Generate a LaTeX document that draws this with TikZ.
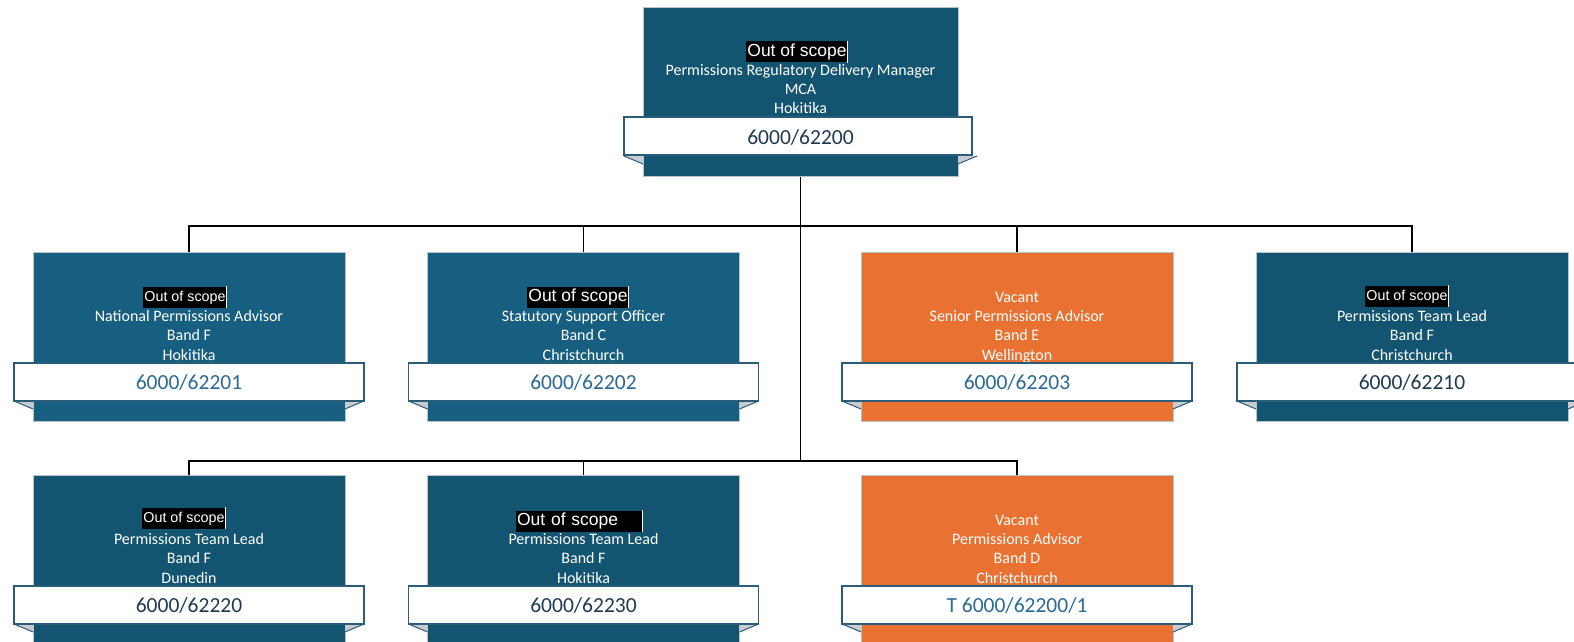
\documentclass[tikz,border=0pt]{standalone}
\usepackage{fontspec}
\setmainfont{Carlito}
\newfontfamily\arialf{Liberation Sans}
\definecolor{dkteal}{HTML}{135470}
\definecolor{mdteal}{HTML}{175F80}
\definecolor{orng}{HTML}{E97132}
\definecolor{bannerline}{HTML}{2B5C78}
\definecolor{codedark}{HTML}{1F3B52}
\definecolor{codeblue}{HTML}{2A6A96}
\definecolor{foldgray}{HTML}{C8CCD0}
\definecolor{boxedge}{HTML}{B8C4CC}
\tikzset{
  unitbox/.style={rectangle, draw=boxedge, line width=0.8pt, minimum width=312pt, minimum height=169pt, inner sep=0pt, anchor=north},
  banner/.style={rectangle, draw=bannerline, fill=white, line width=1.2pt, minimum width=350pt, minimum height=38pt, inner sep=0pt},
  codetext/.style={anchor=base, inner sep=0pt, font=\fontsize{21.5}{25}\selectfont},
  linetext/.style={anchor=base, inner sep=0pt, text=white, font=\fontsize{16}{19}\selectfont},
  oosbig/.style={fill=black, text=white, inner xsep=1pt, inner ysep=0pt, minimum height=21pt, text height=13pt, text depth=4pt, font=\arialf\fontsize{17.5}{20}\selectfont},
  oossmall/.style={fill=black, text=white, inner xsep=1pt, inner ysep=0pt, minimum height=21pt, text height=11pt, text depth=3pt, font=\arialf\fontsize{14.3}{17}\selectfont},
  conn/.style={draw=black, line width=1.3pt},
  foldline/.style={draw=bannerline, line width=1pt}
}
% #1 name, #2 cx, #3 top, #4 fill, #5 box width
\newcommand\orgbox[5]{%
  \node[unitbox, fill=#4, minimum width=#5] (#1) at (#2,#3) {};
  \fill[foldgray] (#2-#5/2-19,#3+149) -- (#2-#5/2,#3+149) -- (#2-#5/2,#3+157) -- cycle;
  \draw[foldline] (#2-#5/2-19,#3+149) -- (#2-#5/2,#3+157);
  \fill[foldgray] (#2+#5/2+19,#3+149) -- (#2+#5/2,#3+149) -- (#2+#5/2,#3+157) -- cycle;
  \draw[foldline] (#2+#5/2+19,#3+149) -- (#2+#5/2,#3+157);
}
% #1 name, #2 cx, #3 top, #4 l2, #5 l3, #6 l4, #7 code, #8 code colour, #9 box width
\newcommand\orgtext[9]{%
  \node[linetext] (#1l2) at (#2,#3+69) {#4};
  \node[linetext] (#1l3) at (#2,#3+88) {#5};
  \node[linetext] (#1l4) at (#2,#3+108) {#6};
  \node[banner, minimum width=#9+38] (#1c) at (#2,#3+130) {};
  \node[codetext, text=#8] (#1ct) at (#2,#3+137) {#7};
}
\begin{document}
\begin{tikzpicture}[x=1pt,y=-1pt]
\clip (0,0) rectangle (1574,642);
\fill[white] (0,0) rectangle (1574,642);

% connectors
\coordinate (j1) at (800.5,226);
\coordinate (j2) at (800.5,461);

% boxes
\orgbox{top}{800.5}{7}{dkteal}{315}
\orgbox{b1}{189}{252}{mdteal}{312}
\orgbox{b2}{583.5}{252}{mdteal}{312}
\orgbox{b3}{1017}{252}{orng}{312}
\orgbox{b4}{1412}{252}{dkteal}{312}
\orgbox{b5}{189}{475}{dkteal}{312}
\orgbox{b6}{583.5}{475}{dkteal}{312}
\orgbox{b7}{1017}{475}{orng}{312}

\draw[conn] (top.south) -- (j2);
\draw[conn] (b1.north) |- (j1) -| (b4.north);
\draw[conn] (b2.north) -- (b2.north |- j1);
\draw[conn] (b3.north) -- (b3.north |- j1);
\draw[conn] (b5.north) |- (j2) -| (b7.north);
\draw[conn] (b6.north) -- (b6.north |- j2);

% texts
\node[oosbig] (topo) at (797,52) {Out of scope};
\draw[white, line width=0.8pt] (topo.north east) -- (topo.south east);
\node[linetext] (topl2) at (800.5,75) {Permissions Regulatory Delivery Manager};
\node[linetext] (topl3) at (800.5,94) {MCA};
\node[linetext] (topl4) at (800.5,113) {Hokitika};
\node[banner, minimum width=348] (topc) at (798,136) {};
\node[codetext, text=codedark] (topct) at (800.5,144) {6000/62200};

\node[oossmall] (b1o) at (185,297) {Out of scope};
\draw[white, line width=0.8pt] (b1o.north east) -- (b1o.south east);
\orgtext{b1}{189}{252}{National Permissions Advisor}{Band F}{Hokitika}{6000/62201}{codeblue}{312}

\node[oosbig] (b2o) at (578,297) {Out of scope};
\draw[white, line width=0.8pt] (b2o.north east) -- (b2o.south east);
\orgtext{b2}{583.5}{252}{Statutory Support Officer}{Band C}{Christchurch}{6000/62202}{codeblue}{312}

\node[linetext, anchor=center] (b3o) at (1017,297) {Vacant};
\orgtext{b3}{1017}{252}{Senior Permissions Advisor}{Band E}{Wellington}{6000/62203}{codeblue}{312}

\node[oossmall] (b4o) at (1407,296) {Out of scope};
\draw[white, line width=0.8pt] (b4o.north east) -- (b4o.south east);
\orgtext{b4}{1412}{252}{Permissions Team Lead}{Band F}{Christchurch}{6000/62210}{codedark}{312}

\node[oossmall] (b5o) at (184,518) {Out of scope};
\draw[white, line width=0.8pt] (b5o.north east) -- (b5o.south east);
\orgtext{b5}{189}{475}{Permissions Team Lead}{Band F}{Dunedin}{6000/62220}{codedark}{312}

\node[oosbig, text width=124pt, align=left] (b6o) at (579,521) {Out of scope};
\draw[white, line width=0.8pt] (b6o.north east) -- (b6o.south east);
\orgtext{b6}{583.5}{475}{Permissions Team Lead}{Band F}{Hokitika}{6000/62230}{codedark}{312}

\node[linetext, anchor=center] (b7o) at (1017,520) {Vacant};
\orgtext{b7}{1017}{475}{Permissions Advisor}{Band D}{Christchurch}{T 6000/62200/1}{codeblue}{312}
\end{tikzpicture}
\end{document}
